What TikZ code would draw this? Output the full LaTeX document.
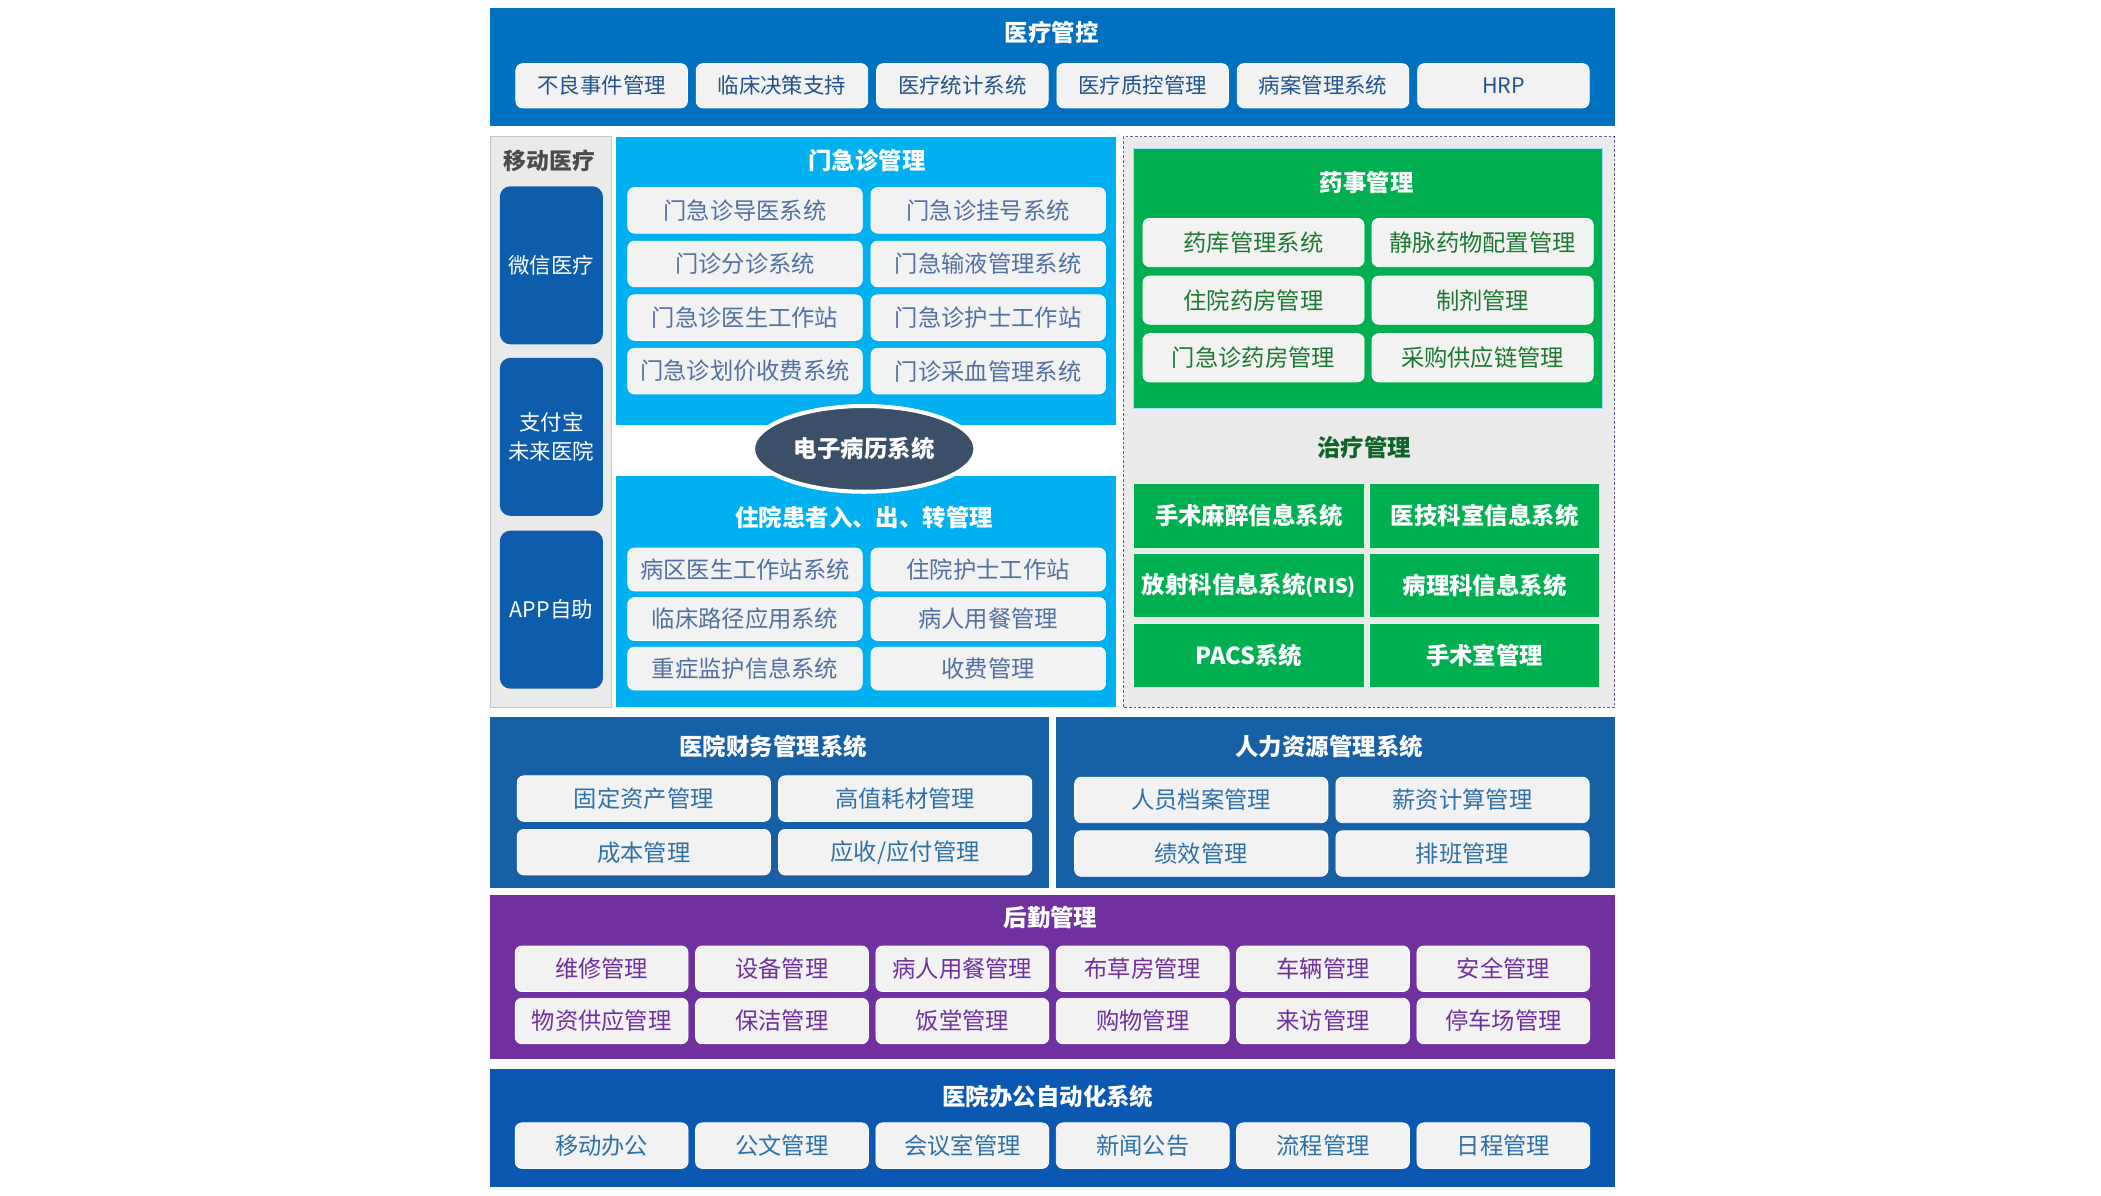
\documentclass[tikz,border=0pt]{standalone}
\usepackage{fontspec}
\setmainfont{Noto Sans CJK SC}
\usepackage{tikz}
\usetikzlibrary{shapes.geometric}

\definecolor{topblue}{RGB}{0,112,192}
\definecolor{cyanblue}{RGB}{0,176,240}
\definecolor{mobblue}{RGB}{13,93,172}
\definecolor{finblue}{RGB}{24,96,166}
\definecolor{offblue}{RGB}{10,88,178}
\definecolor{logpurple}{RGB}{112,48,160}
\definecolor{medgreen}{RGB}{0,176,80}
\definecolor{darkgreen}{RGB}{16,100,40}
\definecolor{emrgray}{RGB}{59,80,104}
\definecolor{cellgray}{RGB}{242,242,242}
\definecolor{panelgray}{RGB}{234,234,234}
\definecolor{txtblue}{RGB}{36,82,140}
\definecolor{txtsky}{RGB}{82,112,160}
\definecolor{txtteal}{RGB}{48,112,168}
\definecolor{txtgreen}{RGB}{30,120,50}

\tikzset{
	cell/.style={rectangle,rounded corners=5pt,fill=cellgray,draw=white,line width=0.6pt,
		inner sep=0pt,minimum height=33pt,font=\fontsize{16}{18}\selectfont},
	cellbig/.style={cell,font=\fontsize{17.4}{20}\selectfont},
	head/.style={inner sep=0pt,text=white,font=\fontsize{17.5}{20}\selectfont\bfseries},
	greencell/.style={rectangle,fill=medgreen,draw=white!85!green,line width=0.6pt,inner sep=0pt,
		minimum width=172pt,minimum height=48pt,text=white,font=\fontsize{17.5}{20}\selectfont\bfseries},
	mobcell/.style={rectangle,rounded corners=8pt,fill=mobblue,inner sep=0pt,minimum width=77pt,
		minimum height=118pt,text=white,align=center,font=\fontsize{16}{21}\selectfont},
}

\begin{document}
\begin{tikzpicture}[x=1pt,y=-1pt]
			\useasboundingbox (0,0) rectangle (1568,892);
			
			% panels
			\fill[topblue] (366,6) rectangle (1205,94);
			\filldraw[fill=panelgray,draw=gray!45] (366,102) rectangle (456,528);
			\fill[cyanblue] (460,102) rectangle (833,317);
			\fill[cyanblue] (460,355) rectangle (833,528);
			\filldraw[fill=panelgray,draw=gray!70!blue,dash pattern=on 2pt off 1.5pt] (838,102) rectangle (1205,528);
			\filldraw[fill=medgreen,draw=cyanblue!40] (846,111) rectangle (1196,305);
			\fill[finblue] (366,535) rectangle (783,663);
			\fill[finblue] (788,535) rectangle (1205,663);
			\fill[logpurple] (366,668) rectangle (1205,790);
			\fill[offblue] (366,798) rectangle (1205,886);
			
			% titles
			\node[head] (Htop) at (785,24) {医疗管控};
			\node[head,text=black!70,font=\fontsize{17}{20}\selectfont\bfseries] (Hmob) at (410,120) {移动医疗};
			\node[head] (Hout) at (647,120) {门急诊管理};
			\node[head] (Hin) at (645,386) {住院患者入、出、转管理};
			\node[head] (Hphar) at (1020,136) {药事管理};
			\node[head,text=darkgreen] (Hther) at (1018,334) {治疗管理};
			\node[head] (Hfin) at (577,557) {医院财务管理系统};
			\node[head] (Hhr) at (992,557) {人力资源管理系统};
			\node[head] (Hlog) at (784,685) {后勤管理};
			\node[head] (Hoff) at (782,818) {医院办公自动化系统};
			
			% top row
			\foreach \t [count=\i] in {不良事件管理,临床决策支持,医疗统计系统,医疗质控管理,病案管理系统,HRP} {
				\pgfmathsetmacro{\x}{449+(\i-1)*134.6}
				\node[cell,minimum width=128pt,text=txtblue] (G\i) at (\x,64) {\t};
			}
			
			% mobile
			\node[mobcell] (M1) at (411.5,198) {微信医疗};
			\node[mobcell] (M2) at (411.5,326) {支付宝\\未来医院};
			\node[mobcell] (M3) at (411.5,455) {APP自助};
			
			% outpatient
			\foreach \t [count=\i from 0] in {门急诊导医系统,门急诊挂号系统,门诊分诊系统,门急输液管理系统,
				门急诊医生工作站,门急诊护士工作站,门急诊划价收费系统,门诊采血管理系统} {
				\pgfmathtruncatemacro{\c}{mod(\i,2)}
				\pgfmathtruncatemacro{\r}{div(\i,2)}
				\node[cellbig,minimum width=175pt,minimum height=34pt,text=txtsky] (O\i) at (556+\c*181.5,157+\r*40) {\t};
			}
			
			% emr
			\node[ellipse,fill=emrgray,draw=white,line width=3pt,minimum width=166pt,minimum height=64pt,
				inner sep=0pt,text=white,font=\fontsize{17.5}{20}\selectfont\bfseries] (EMR) at (645,335) {电子病历系统};
			
			% inpatient
			\foreach \t [count=\i from 0] in {病区医生工作站系统,住院护士工作站,临床路径应用系统,病人用餐管理,
				重症监护信息系统,收费管理} {
				\pgfmathtruncatemacro{\c}{mod(\i,2)}
				\pgfmathtruncatemacro{\r}{div(\i,2)}
				\node[cellbig,minimum width=175pt,minimum height=32pt,text=txtsky] (I\i) at (556+\c*181.5,425+\r*37) {\t};
			}
			
			% pharmacy
			\foreach \t [count=\i from 0] in {药库管理系统,静脉药物配置管理,住院药房管理,制剂管理,
				门急诊药房管理,采购供应链管理} {
				\pgfmathtruncatemacro{\c}{mod(\i,2)}
				\pgfmathtruncatemacro{\r}{div(\i,2)}
				\node[cellbig,minimum width=165pt,minimum height=36pt,text=txtgreen] (P\i) at (935.5+\c*171,181+\r*43) {\t};
			}
			
			% therapy
			\foreach \t [count=\i from 0] in {手术麻醉信息系统,医技科室信息系统,{放射科信息系统{\fontsize{15}{18}\selectfont(RIS)}},
				病理科信息系统,PACS系统,手术室管理} {
				\pgfmathtruncatemacro{\c}{mod(\i,2)}
				\pgfmathtruncatemacro{\r}{div(\i,2)}
				\node[greencell] (T\i) at (932+\c*176,385+\r*52) {\t};
			}
			
			% finance and hr
			\foreach \t [count=\i from 0] in {固定资产管理,高值耗材管理,成本管理,应收/应付管理} {
				\pgfmathtruncatemacro{\c}{mod(\i,2)}
				\pgfmathtruncatemacro{\r}{div(\i,2)}
				\node[cellbig,minimum width=189pt,minimum height=34pt,text=txtteal] (F\i) at (480.5+\c*195,596+\r*40) {\t};
			}
			\foreach \t [count=\i from 0] in {人员档案管理,薪资计算管理,绩效管理,排班管理} {
				\pgfmathtruncatemacro{\c}{mod(\i,2)}
				\pgfmathtruncatemacro{\r}{div(\i,2)}
				\node[cellbig,minimum width=189pt,minimum height=34pt,text=txtteal] (R\i) at (896.5+\c*195,597+\r*40) {\t};
			}
			
			% logistics
			\foreach \t [count=\i from 0] in {维修管理,设备管理,病人用餐管理,布草房管理,车辆管理,安全管理,
				物资供应管理,保洁管理,饭堂管理,购物管理,来访管理,停车场管理} {
				\pgfmathtruncatemacro{\c}{mod(\i,6)}
				\pgfmathtruncatemacro{\r}{div(\i,6)}
				\node[cellbig,minimum width=129pt,minimum height=34pt,text=logpurple] (L\i) at (449+\c*134.6,723+\r*39) {\t};
			}
			
			% office
			\foreach \t [count=\i] in {移动办公,公文管理,会议室管理,新闻公告,流程管理,日程管理} {
				\pgfmathsetmacro{\x}{449+(\i-1)*134.6}
				\node[cellbig,minimum width=129pt,minimum height=34pt,text=txtteal] (A\i) at (\x,855) {\t};
			}
			
		\end{tikzpicture}
\end{document}
